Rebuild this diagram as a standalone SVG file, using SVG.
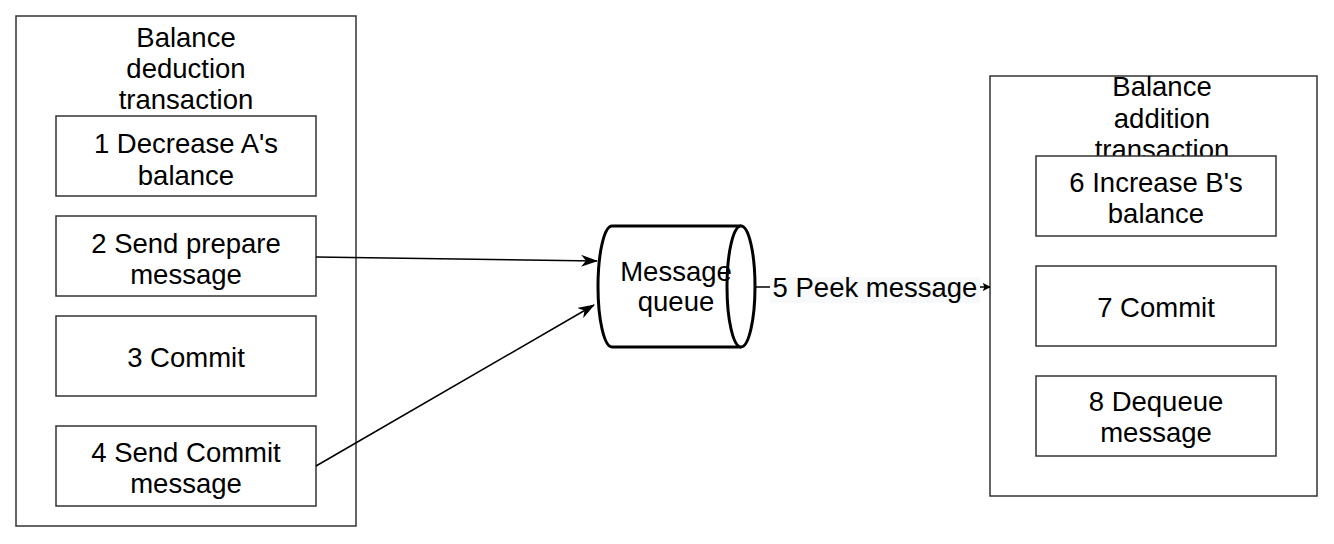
<svg xmlns="http://www.w3.org/2000/svg" width="1334" height="544" viewBox="0 0 1334 544">
<style>
.box{fill:#fff;stroke:#333;stroke-width:1.5}
.t{font-family:"Liberation Sans",Arial,sans-serif;font-size:27.5px;fill:#000;text-anchor:middle}
.edge{fill:none;stroke:#000;stroke-width:1.5}
.cyl{fill:#fff;stroke:#000;stroke-width:3}
</style>
<defs>
<marker id="arr" viewBox="0 0 10 10" refX="9" refY="5" markerWidth="8" markerHeight="8" markerUnits="userSpaceOnUse" orient="auto">
<path d="M0,0 L10,5 L0,10 L2,5 Z" fill="#000"/>
</marker>
<marker id="arrBig" viewBox="0 0 17 12" refX="16" refY="6" markerWidth="17" markerHeight="12" markerUnits="userSpaceOnUse" orient="auto">
<path d="M0,0 L17,6 L0,12 L5,6 Z" fill="#000"/>
</marker>
</defs>
<rect width="1334" height="544" fill="#fff"/>
<g id="left-container">
<rect class="box" x="16" y="16" width="340" height="510"/>
<text class="t" x="186" y="47">Balance</text>
<text class="t" x="186" y="78">deduction</text>
<text class="t" x="186" y="109">transaction</text>
</g>
<g id="right-container">
<rect class="box" x="990" y="76" width="327" height="420"/>
<text class="t" x="1162" y="96">Balance</text>
<text class="t" x="1162" y="128">addition</text>
<text class="t" x="1162" y="159">transaction</text>
</g>
<g id="step1">
<rect class="box" x="56" y="116" width="260" height="80"/>
<text class="t" x="186" y="153">1 Decrease A's</text>
<text class="t" x="186" y="185">balance</text>
</g>
<g id="step2">
<rect class="box" x="56" y="216" width="260" height="80"/>
<text class="t" x="186" y="253">2 Send prepare</text>
<text class="t" x="186" y="284">message</text>
</g>
<g id="step3">
<rect class="box" x="56" y="316" width="260" height="80"/>
<text class="t" x="186" y="367">3 Commit</text>
</g>
<g id="step4">
<rect class="box" x="56" y="426" width="260" height="80"/>
<text class="t" x="186" y="462">4 Send Commit</text>
<text class="t" x="186" y="493">message</text>
</g>
<g id="step6">
<rect class="box" x="1036" y="156" width="240" height="80"/>
<text class="t" x="1156" y="192">6 Increase B's</text>
<text class="t" x="1156" y="223">balance</text>
</g>
<g id="step7">
<rect class="box" x="1036" y="266" width="240" height="80"/>
<text class="t" x="1156" y="317">7 Commit</text>
</g>
<g id="step8">
<rect class="box" x="1036" y="376" width="240" height="80"/>
<text class="t" x="1156" y="411">8 Dequeue</text>
<text class="t" x="1156" y="442">message</text>
</g>
<g id="queue">
<path class="cyl" d="M741,226 L612,226 A14,60.5 0 0 0 612,347 L741,347"/>
<ellipse class="cyl" cx="741" cy="286.5" rx="14" ry="60.5"/>
<text class="t" x="676" y="281">Message</text>
<text class="t" x="676" y="311">queue</text>
</g>
<g id="connectors">
<path class="edge" d="M316,257 L597,261" marker-end="url(#arrBig)"/>
<path class="edge" d="M316,466 L594,305" marker-end="url(#arrBig)"/>
<path class="edge" d="M755,287 L990,287" marker-end="url(#arr)"/>
<rect x="770" y="277" width="210" height="26" fill="#f8f9fa"/>
<text class="t" x="875" y="297">5 Peek message</text>
</g>
</svg>
